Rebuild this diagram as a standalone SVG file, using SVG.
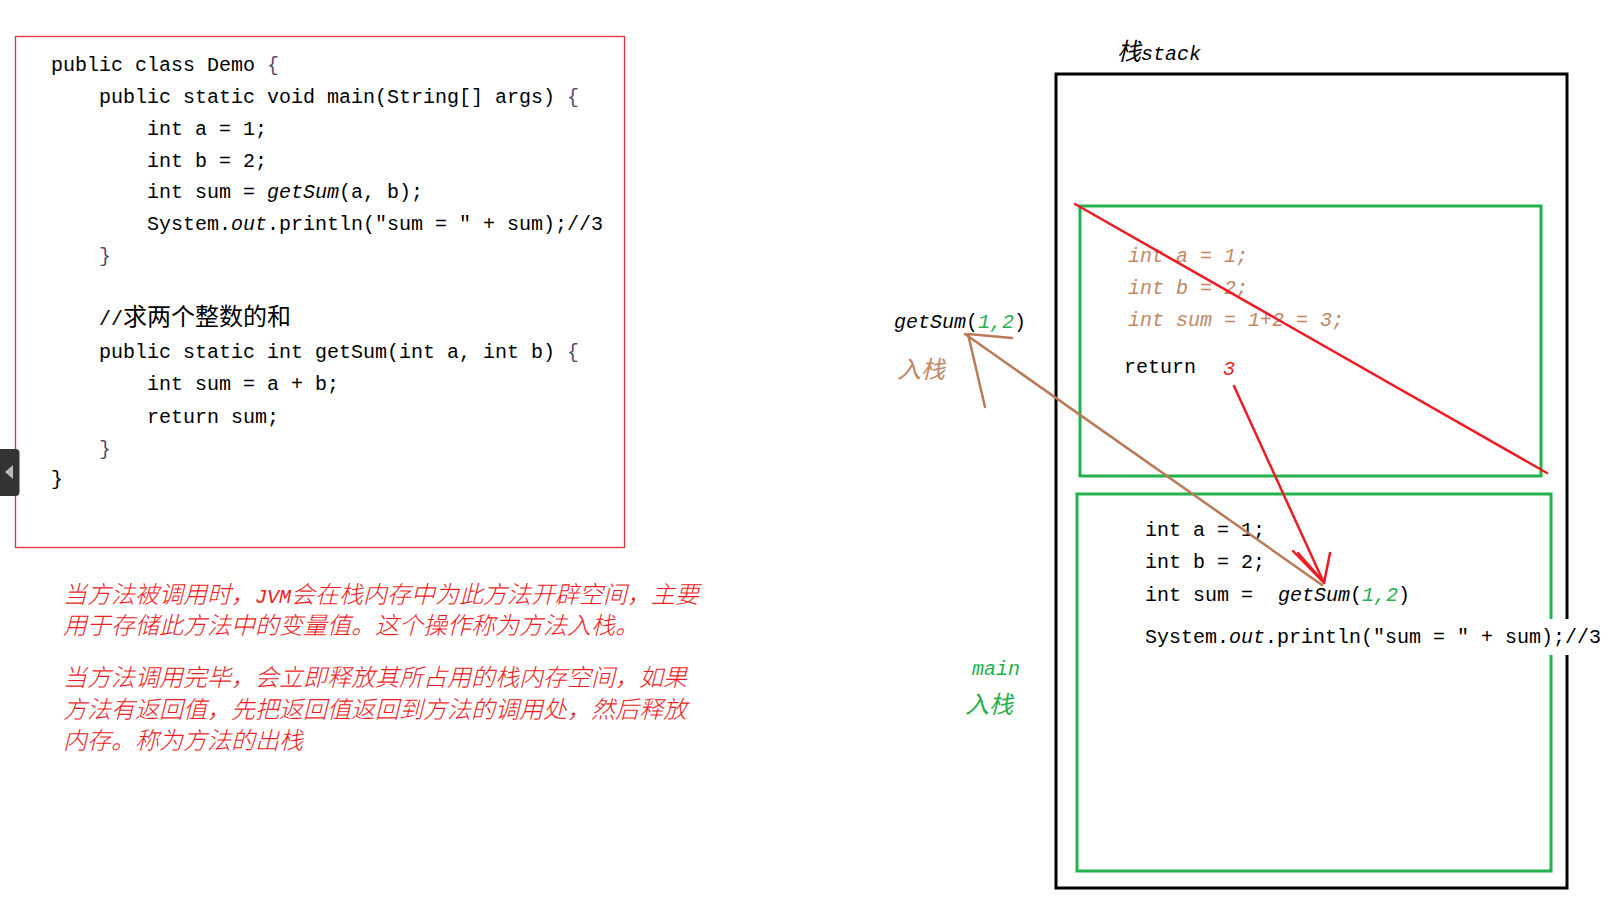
<svg xmlns="http://www.w3.org/2000/svg" width="1607" height="902" viewBox="0 0 1607 902">
<style>
.code{font-family:"Liberation Mono","Noto Sans CJK SC",monospace;font-size:20px;fill:#000}
.cjk{font-family:"Noto Sans CJK SC",sans-serif;font-size:24px}
.it{font-style:italic}
.note{font-family:"Noto Sans CJK SC",sans-serif;font-size:24px;font-style:italic;fill:#ed1c24;font-weight:300}
.tan{fill:#c08866}
.grn{fill:#22b14c}
.rd{fill:#ed1c24}
.brace{fill:#5a4a6a}
.frame{fill:none;stroke:#22b14c;stroke-width:3}
.brown{fill:none;stroke:#b97a57;stroke-width:2.5;stroke-linecap:round;stroke-linejoin:round}
.red{fill:none;stroke:#ed1c24;stroke-width:2.5;stroke-linecap:round;stroke-linejoin:round}
</style>
<rect width="1607" height="902" fill="#fff"/>

<g id="code-box">
<rect x="15.5" y="36.5" width="609" height="511" fill="#fff" stroke="#e0323c" stroke-width="1.3"/>
<text class="code" x="51" y="71">public class Demo <tspan class="brace">{</tspan></text>
<text class="code" x="99" y="103">public static void main(String[] args) <tspan class="brace">{</tspan></text>
<text class="code" x="147" y="135">int a = 1;</text>
<text class="code" x="147" y="167">int b = 2;</text>
<text class="code" x="147" y="198">int sum = <tspan class="it">getSum</tspan>(a, b);</text>
<text class="code" x="147" y="230">System.<tspan class="it">out</tspan>.println("sum = " + sum);//3</text>
<text class="code brace" x="99" y="262">}</text>
<text class="code" x="99" y="325">//<tspan class="cjk">求两个整数的和</tspan></text>
<text class="code" x="99" y="358">public static int getSum(int a, int b) <tspan class="brace">{</tspan></text>
<text class="code" x="147" y="390">int sum = a + b;</text>
<text class="code" x="147" y="423">return sum;</text>
<text class="code brace" x="99" y="455">}</text>
<text class="code" x="51" y="485">}</text>
</g>

<g id="side-tab">
<rect x="-6" y="449" width="25.5" height="47" rx="4" fill="#333"/>
<polygon points="5,472 13,465 13,479" fill="#b8b8b8"/>
</g>

<g id="notes">
<text class="note" x="63" y="603">当方法被调用时，<tspan font-family="Liberation Mono" font-size="20">JVM</tspan>会在栈内存中为此方法开辟空间，主要</text>
<text class="note" x="63" y="634">用于存储此方法中的变量值。这个操作称为方法入栈。</text>
<text class="note" x="63" y="686">当方法调用完毕，会立即释放其所占用的栈内存空间，如果</text>
<text class="note" x="63" y="718">方法有返回值，先把返回值返回到方法的调用处，然后释放</text>
<text class="note" x="63" y="749">内存。称为方法的出栈</text>
</g>

<g id="stack">
<text class="code it" x="1117" y="60"><tspan class="cjk" font-size="23">栈</tspan>stack</text>
<rect x="1056" y="74" width="511" height="814" fill="none" stroke="#000" stroke-width="3"/>
</g>

<g id="frame-getSum">
<rect class="frame" x="1080" y="206" width="461" height="270"/>
<text class="code it tan" x="1128" y="262">int a = 1;</text>
<text class="code it tan" x="1128" y="294">int b = 2;</text>
<text class="code it tan" x="1128" y="326">int sum = 1+2 = 3;</text>
<text class="code" x="1124" y="373">return</text>
<text class="code it rd" x="1223" y="375">3</text>
</g>

<g id="frame-main">
<rect class="frame" x="1077" y="494" width="474" height="377"/>
<text class="code" x="1145" y="536">int a = 1;</text>
<text class="code" x="1145" y="568">int b = 2;</text>
<text class="code" x="1145" y="601">int sum =</text>
<text class="code" x="1278" y="601"><tspan class="it">getSum</tspan>(<tspan class="it grn">1,2</tspan>)</text>
<rect x="1140" y="619" width="467" height="36" fill="#fff"/>
<text class="code" x="1145" y="643">System.<tspan class="it">out</tspan>.println("sum = " + sum);//3</text>
</g>

<g id="label-getSum">
<text class="code" x="894" y="328"><tspan class="it">getSum</tspan>(<tspan class="it grn">1,2</tspan>)</text>
<text class="cjk it tan" x="897" y="378">入栈</text>
</g>

<g id="label-main">
<text class="code it grn" x="972" y="675">main</text>
<text class="cjk it grn" x="965" y="713">入栈</text>
</g>

<g id="connectors">
<line class="brown" x1="1322" y1="585" x2="965" y2="334"/>
<polyline class="brown" points="1012,338 968,334 985,407"/>
<line class="red" x1="1075" y1="204" x2="1547" y2="473"/>
<line class="red" x1="1234" y1="386" x2="1324" y2="583"/>
<polyline class="red" points="1293,551 1324,583 1330,553" stroke-width="3.5"/>
<line class="red" x1="1298" y1="553" x2="1322" y2="580" stroke-width="3"/>
</g>
</svg>
